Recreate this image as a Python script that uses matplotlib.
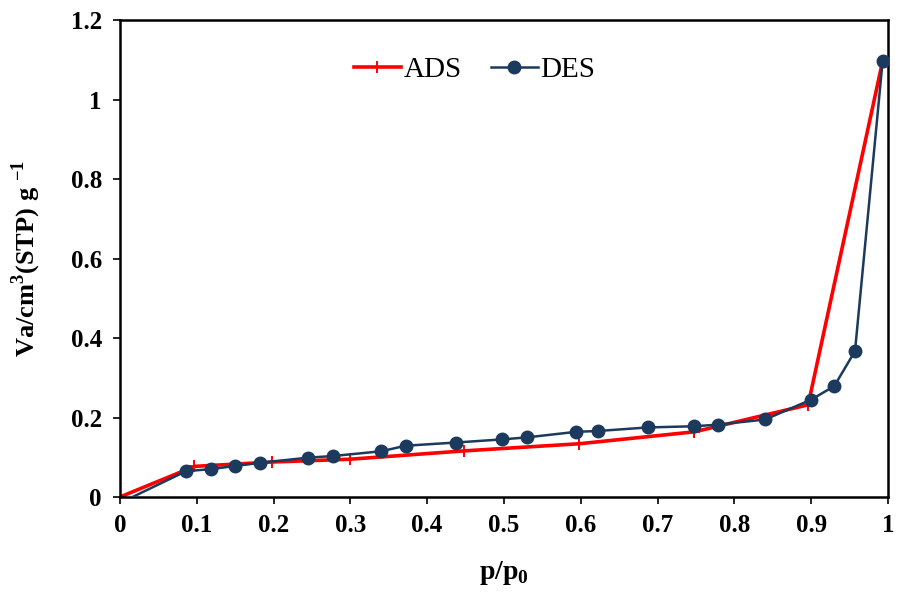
import matplotlib
import matplotlib.pyplot as plt
matplotlib.use('agg')

# adsorption branch
ads_p = [0.0, 0.097, 0.198, 0.299, 0.448, 0.598, 0.748, 0.896, 0.993]
ads_v = [0.0, 0.077, 0.088, 0.095, 0.116, 0.134, 0.164, 0.232, 1.097]

# desorption branch (first point sits just below the axes)
des_p = [-0.005, 0.086, 0.118, 0.150, 0.182, 0.245, 0.277, 0.340, 0.372, 0.437,
         0.498, 0.530, 0.594, 0.622, 0.687, 0.748, 0.778, 0.840, 0.900, 0.930,
         0.957, 0.993]
des_v = [-0.02, 0.065, 0.070, 0.078, 0.086, 0.099, 0.103, 0.115, 0.129, 0.137,
         0.145, 0.150, 0.164, 0.166, 0.175, 0.178, 0.182, 0.195, 0.245, 0.279,
         0.367, 1.097]

x_ticks = [0, 0.1, 0.2, 0.3, 0.4, 0.5, 0.6, 0.7, 0.8, 0.9, 1]
x_labels = ['0', '0.1', '0.2', '0.3', '0.4', '0.5', '0.6', '0.7', '0.8', '0.9', '1']
y_ticks = [0, 0.2, 0.4, 0.6, 0.8, 1.0, 1.2]
y_labels = ['0', '0.2', '0.4', '0.6', '0.8', '1', '1.2']

plt.rcParams['font.family'] = ['Liberation Serif', 'DejaVu Serif']
plt.rcParams['mathtext.fontset'] = 'custom'
plt.rcParams['mathtext.rm'] = 'Liberation Serif'
plt.rcParams['mathtext.bf'] = 'Liberation Serif:bold'

fig = plt.figure(figsize=(9.02, 5.92), dpi=100)
ax = fig.add_axes([0.133, 0.1605, 0.8515, 0.8055])

ax.plot(ads_p, ads_v, color='#ff0000', lw=2.6, marker='+', ms=9, mew=1.4,
        label='ADS', zorder=2)
ax.plot(des_p, des_v, color='#1b3a5e', lw=1.8, marker='o', ms=9,
        label='DES', zorder=3)

ax.set_xlim(0, 1)
ax.set_ylim(0, 1.2)
ax.set_xticks(x_ticks)
ax.set_xticklabels(x_labels)
ax.set_yticks(y_ticks)
ax.set_yticklabels(y_labels)
for lab in ax.get_xticklabels() + ax.get_yticklabels():
    lab.set_fontweight('bold')
    lab.set_fontsize(18)
ax.tick_params(direction='out', length=5, width=1.2)
ax.tick_params(axis='y', pad=8)
ax.tick_params(axis='x', pad=7)
for s in ax.spines.values():
    s.set_linewidth(1.8)

ax.set_xlabel(r'p/p$_\mathbf{0}$', fontsize=20, fontweight='bold', labelpad=16)
ax.set_ylabel(r'Va/cm$^\mathbf{3}$(STP) g $^\mathbf{-1}$', fontsize=19,
              fontweight='bold', labelpad=20)

ax.legend(loc='center', bbox_to_anchor=(0.462, 0.895), ncol=2, frameon=False,
          fontsize=21, handlelength=1.6, handletextpad=0.1, columnspacing=1.0)

plt.savefig('out.png', dpi=100)
plt.close(fig)
